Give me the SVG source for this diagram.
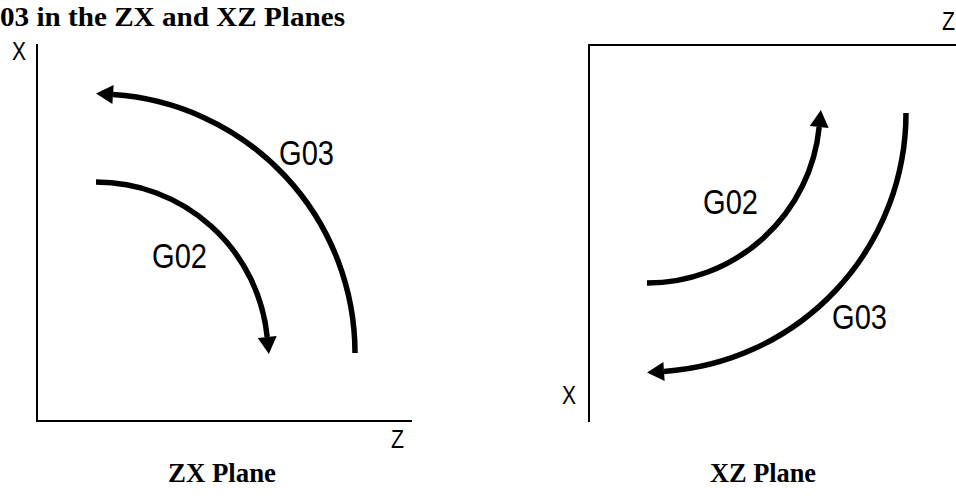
<svg xmlns="http://www.w3.org/2000/svg" width="956" height="499" viewBox="0 0 956 499">
<defs>
<style>
.axis{stroke:#000;stroke-width:2;fill:none}
.arc{stroke:#000;stroke-width:5.5;fill:none;marker-end:url(#ah)}
.lbl{font-family:"Liberation Sans",Arial,sans-serif;fill:#000}
.ttl{font-family:"Liberation Serif","Times New Roman",serif;font-weight:bold;fill:#000}
</style>
<marker id="ah" markerUnits="userSpaceOnUse" viewBox="0 -10 20 20" refX="0" refY="0" markerWidth="20" markerHeight="20" orient="auto" overflow="visible">
<path d="M0,-9.5 L17,0 L0,9.5 Z" fill="#000"/>
</marker>
</defs>
<rect width="956" height="499" fill="#fff"/>
<text class="ttl" x="0" y="26" font-size="28" textLength="345" lengthAdjust="spacingAndGlyphs">03 in the ZX and XZ Planes</text>

<g id="zx-axes">
<path class="axis" d="M37,44 L37,421 L412,421"/>
<text class="lbl" x="12" y="60" font-size="26" textLength="14" lengthAdjust="spacingAndGlyphs">X</text>
<text class="lbl" x="391" y="448" font-size="26" textLength="13" lengthAdjust="spacingAndGlyphs">Z</text>
</g>
<g id="xz-axes">
<path class="axis" d="M956,45 L589,45 L589,422"/>
<text class="lbl" x="942" y="30" font-size="26" textLength="13" lengthAdjust="spacingAndGlyphs">Z</text>
<text class="lbl" x="562" y="404" font-size="26" textLength="14" lengthAdjust="spacingAndGlyphs">X</text>
</g>

<g id="connectors">
<path id="zx-g03" class="arc" d="M355,353 A259,259 0 0 0 113,94.6"/>
<path id="zx-g02" class="arc" d="M96,182 A172,172 0 0 1 267.2,337"/>
<path id="xz-g02" class="arc" d="M647,283 A173,173 0 0 0 819.2,127"/>
<path id="xz-g03" class="arc" d="M906,113 A259,259 0 0 1 664,371.4"/>
</g>

<g id="zx-labels">
<text class="lbl" x="279" y="165" font-size="35" textLength="55" lengthAdjust="spacingAndGlyphs">G03</text>
<text class="lbl" x="152" y="268" font-size="35" textLength="55" lengthAdjust="spacingAndGlyphs">G02</text>
</g>
<g id="xz-labels">
<text class="lbl" x="703" y="214" font-size="35" textLength="55" lengthAdjust="spacingAndGlyphs">G02</text>
<text class="lbl" x="832" y="329" font-size="35" textLength="55" lengthAdjust="spacingAndGlyphs">G03</text>
</g>

<text class="ttl" x="168" y="482" font-size="27" textLength="108" lengthAdjust="spacingAndGlyphs">ZX Plane</text>
<text class="ttl" x="710" y="482" font-size="27" textLength="106" lengthAdjust="spacingAndGlyphs">XZ Plane</text>
</svg>
